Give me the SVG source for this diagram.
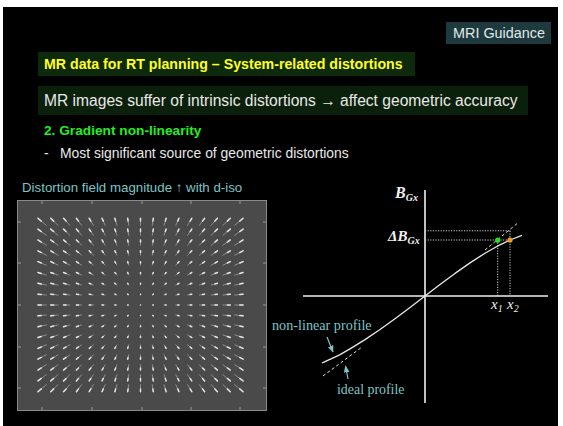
<svg xmlns="http://www.w3.org/2000/svg" xmlns:xlink="http://www.w3.org/1999/xlink" width="563" height="426" viewBox="0 0 563 426">
<style>
.sans{font-family:"Liberation Sans",Arial,sans-serif}
.serif{font-family:"Liberation Serif","Times New Roman",serif}
.teal{fill:#7cc4c6}
.shaft{fill:none;stroke:#a0a0a0;stroke-width:0.8;stroke-linecap:round;vector-effect:non-scaling-stroke}
.head{fill:none;stroke:#e4e4e4;stroke-width:1.5;stroke-linecap:round;vector-effect:non-scaling-stroke}
.dot{fill:none;stroke:#d0d0d0;stroke-width:1;stroke-dasharray:1.2 1.4}
.dash{fill:none;stroke:#e0e0e0;stroke-width:1;stroke-dasharray:3 2.5}
.tick{stroke:#999;stroke-width:1}
</style>
<defs>
<path id="row" class="shaft" d="M46.28 0L37.92 1M58.06 0L50.74 1M69.84 0L63.56 1M81.61 0L76.39 1M93.39 0L89.21 1M105.17 0L102.03 1M116.95 0L114.85 1M128.72 0L127.68 1M140.5 0L140.5 1M152.28 0L153.32 1M164.05 0L166.15 1M175.83 0L178.97 1M187.61 0L191.79 1M199.39 0L204.61 1M211.16 0L217.44 1M222.94 0L230.26 1M234.72 0L243.08 1"/>
<path id="rowh" class="head" d="M41.26 0.6L37.92 1M53.67 0.6L50.74 1M66.08 0.6L63.56 1M78.47 0.6L76.39 1M90.88 0.6L89.21 1M103.29 0.6L102.03 1M115.7 0.6L114.85 1M128.09 0.6L127.68 1M140.5 0.6L140.5 1M152.91 0.6L153.32 1M165.3 0.6L166.15 1M177.71 0.6L178.97 1M190.12 0.6L191.79 1M202.53 0.6L204.61 1M214.92 0.6L217.44 1M227.33 0.6L230.26 1M239.74 0.6L243.08 1"/>
<marker id="ah" viewBox="0 0 10 10" refX="9" refY="5" markerWidth="7" markerHeight="7" orient="auto" markerUnits="userSpaceOnUse"><path d="M0 1L10 5L0 9z" fill="#7cc4c6"/></marker>
</defs>
<rect x="0" y="0" width="563" height="426" fill="#ffffff"/>
<rect x="3" y="7" width="555" height="419" fill="#000000"/>

<g id="header">
<rect x="446" y="22" width="105" height="22" fill="#1e3a3e"/>
<text x="453" y="38" class="sans" font-size="14.4" fill="#e0e8e8">MRI Guidance</text>
</g>
<g id="title">
<rect x="38" y="52" width="377" height="24" fill="#0e2a0c"/>
<text x="44" y="69" class="sans" font-size="14.2" font-weight="bold" fill="#ffff22">MR data for RT planning – System-related distortions</text>
</g>
<g id="subtitle">
<rect x="38" y="86" width="490" height="29" fill="#0b200b"/>
<text x="44" y="106" class="sans" font-size="15.6" fill="#e8e8e8">MR images suffer of intrinsic distortions → affect geometric accuracy</text>
</g>
<g id="point">
<text x="44" y="135" class="sans" font-size="13.7" font-weight="bold" fill="#22ee22">2. Gradient non-linearity</text>
<text x="44" y="158" class="sans" font-size="13.9" fill="#e8e8e8">-</text>
<text x="60" y="158" class="sans" font-size="13.9" fill="#e8e8e8">Most significant source of geometric distortions</text>
</g>
<g id="field-caption">
<text x="22" y="192" class="sans teal" font-size="13.3">Distortion field magnitude ↑ with d-iso</text>
</g>

<g id="field-map">
<rect x="17.5" y="200.5" width="249" height="210" fill="#4a4a4a" stroke="#8a8a8a" stroke-width="1"/>
<g class="tick">
<line x1="42" y1="201" x2="42" y2="204"/><line x1="92" y1="201" x2="92" y2="204"/><line x1="142" y1="201" x2="142" y2="204"/><line x1="191" y1="201" x2="191" y2="204"/><line x1="240" y1="201" x2="240" y2="204"/>
<line x1="42" y1="410" x2="42" y2="407"/><line x1="92" y1="410" x2="92" y2="407"/><line x1="142" y1="410" x2="142" y2="407"/><line x1="191" y1="410" x2="191" y2="407"/><line x1="240" y1="410" x2="240" y2="407"/>
<line x1="18" y1="222" x2="21" y2="222"/><line x1="18" y1="263" x2="21" y2="263"/><line x1="18" y1="305" x2="21" y2="305"/><line x1="18" y1="347" x2="21" y2="347"/><line x1="18" y1="388" x2="21" y2="388"/>
<line x1="266" y1="222" x2="263" y2="222"/><line x1="266" y1="263" x2="263" y2="263"/><line x1="266" y1="305" x2="263" y2="305"/><line x1="266" y1="347" x2="263" y2="347"/><line x1="266" y1="388" x2="263" y2="388"/>
</g>
<use xlink:href="#row" transform="translate(0 225.34) scale(1 -7.072)"/>
<use xlink:href="#row" transform="translate(0 235.29) scale(1 -6.188)"/>
<use xlink:href="#row" transform="translate(0 245.25) scale(1 -5.304)"/>
<use xlink:href="#row" transform="translate(0 255.21) scale(1 -4.42)"/>
<use xlink:href="#row" transform="translate(0 265.17) scale(1 -3.536)"/>
<use xlink:href="#row" transform="translate(0 275.13) scale(1 -2.652)"/>
<use xlink:href="#row" transform="translate(0 285.08) scale(1 -1.768)"/>
<use xlink:href="#row" transform="translate(0 295.04) scale(1 -0.884)"/>
<use xlink:href="#row" transform="translate(0 305) scale(1 0.01)"/>
<use xlink:href="#row" transform="translate(0 314.96) scale(1 0.884)"/>
<use xlink:href="#row" transform="translate(0 324.92) scale(1 1.768)"/>
<use xlink:href="#row" transform="translate(0 334.87) scale(1 2.652)"/>
<use xlink:href="#row" transform="translate(0 344.83) scale(1 3.536)"/>
<use xlink:href="#row" transform="translate(0 354.79) scale(1 4.42)"/>
<use xlink:href="#row" transform="translate(0 364.75) scale(1 5.304)"/>
<use xlink:href="#row" transform="translate(0 374.71) scale(1 6.188)"/>
<use xlink:href="#row" transform="translate(0 384.66) scale(1 7.072)"/>
<use xlink:href="#rowh" transform="translate(0 225.34) scale(1 -7.072)"/>
<use xlink:href="#rowh" transform="translate(0 235.29) scale(1 -6.188)"/>
<use xlink:href="#rowh" transform="translate(0 245.25) scale(1 -5.304)"/>
<use xlink:href="#rowh" transform="translate(0 255.21) scale(1 -4.42)"/>
<use xlink:href="#rowh" transform="translate(0 265.17) scale(1 -3.536)"/>
<use xlink:href="#rowh" transform="translate(0 275.13) scale(1 -2.652)"/>
<use xlink:href="#rowh" transform="translate(0 285.08) scale(1 -1.768)"/>
<use xlink:href="#rowh" transform="translate(0 295.04) scale(1 -0.884)"/>
<use xlink:href="#rowh" transform="translate(0 305) scale(1 0.01)"/>
<use xlink:href="#rowh" transform="translate(0 314.96) scale(1 0.884)"/>
<use xlink:href="#rowh" transform="translate(0 324.92) scale(1 1.768)"/>
<use xlink:href="#rowh" transform="translate(0 334.87) scale(1 2.652)"/>
<use xlink:href="#rowh" transform="translate(0 344.83) scale(1 3.536)"/>
<use xlink:href="#rowh" transform="translate(0 354.79) scale(1 4.42)"/>
<use xlink:href="#rowh" transform="translate(0 364.75) scale(1 5.304)"/>
<use xlink:href="#rowh" transform="translate(0 374.71) scale(1 6.188)"/>
<use xlink:href="#rowh" transform="translate(0 384.66) scale(1 7.072)"/>
</g>

<g id="graph">
<line x1="425" y1="190" x2="425" y2="403" stroke="#f0f0f0" stroke-width="1.6"/>
<line x1="303" y1="296" x2="548" y2="296" stroke="#f0f0f0" stroke-width="1.6"/>
<path class="dot" d="M425 230.8H511M425 240H510M497.7 240V296M510 230.8V296"/>
<path class="dash" d="M485 250L519 222M323 376L362 347"/>
<path d="M322 363C328 360.2 335 357 340 354.6L350 348.9L365 339.6L380 329.5L395 318.7L410 307.5L425 296L440 284.55L455 273.4L470 262.85L485 253.2L500 244.8L510 240L522 235.3" fill="none" stroke="#e8e8e8" stroke-width="1.3" stroke-linejoin="round"/>
<circle cx="497.7" cy="240.2" r="2.6" fill="#22dd22"/>
<circle cx="510" cy="240" r="2.6" fill="#f0a020"/>
<text x="395" y="198" class="serif" font-size="16" font-style="italic" font-weight="bold" fill="#f0f0f0">B<tspan font-size="10" dy="3">Gx</tspan></text>
<text x="388" y="241" class="serif" font-size="15" font-style="italic" font-weight="bold" fill="#f0f0f0">ΔB<tspan font-size="10" dy="3">Gx</tspan></text>
<text x="491" y="309" class="serif" font-size="15" font-style="italic" fill="#f0f0f0">x<tspan font-size="10" dy="3">1</tspan></text>
<text x="507" y="309" class="serif" font-size="15" font-style="italic" fill="#f0f0f0">x<tspan font-size="10" dy="3">2</tspan></text>
<text x="272" y="330" class="serif teal" font-size="14.2">non-linear profile</text>
<text x="337" y="394" class="serif teal" font-size="13.9">ideal profile</text>
</g>
<g id="connectors">
<line x1="327" y1="337" x2="333" y2="352" stroke="#7cc4c6" stroke-width="1.2" marker-end="url(#ah)"/>
<line x1="348" y1="379" x2="345.5" y2="366" stroke="#7cc4c6" stroke-width="1.2" marker-end="url(#ah)"/>
</g>
</svg>
